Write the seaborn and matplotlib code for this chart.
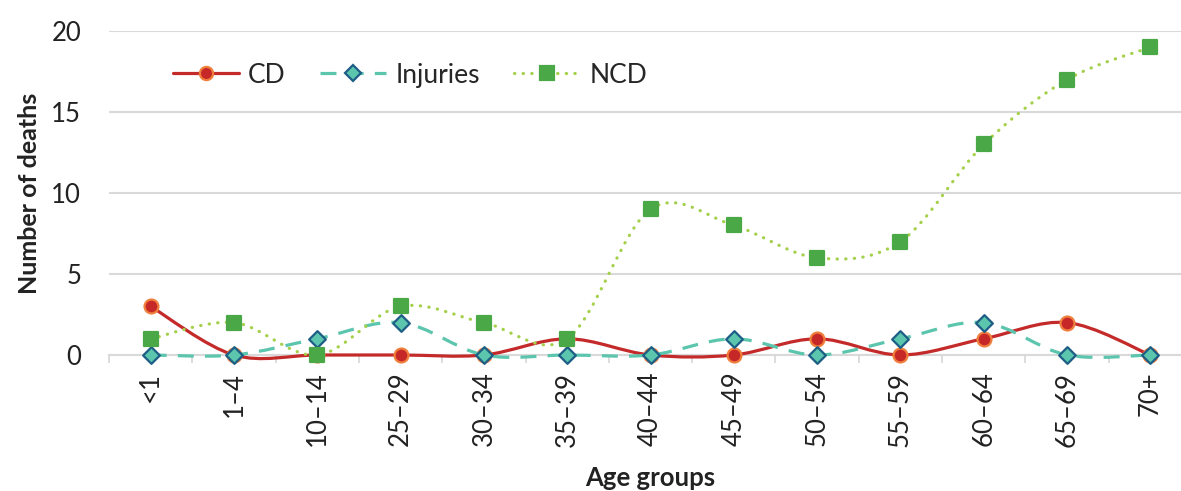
import numpy as np
import pandas as pd
import seaborn as sns
import matplotlib.pyplot as plt
from matplotlib.path import Path
from matplotlib.patches import PathPatch
from matplotlib.lines import Line2D
from matplotlib.ticker import FixedLocator

# data
age_groups = ['<1', '1–4', '10–14', '25–29', '30–34', '35–39', '40–44',
              '45–49', '50–54', '55–59', '60–64', '65–69', '70+']
cd = [3, 0, 0, 0, 0, 1, 0, 0, 1, 0, 1, 2, 0]
injuries = [0, 0, 1, 2, 0, 0, 0, 1, 0, 1, 2, 0, 0]
ncd = [1, 2, 0, 3, 2, 1, 9, 8, 6, 7, 13, 17, 19]

df = pd.DataFrame({'age': age_groups, 'CD': cd, 'Injuries': injuries, 'NCD': ncd})
df['pos'] = np.arange(len(df))

sns.set_theme(style='white')
plt.rcParams['font.family'] = ['Lato', 'DejaVu Sans']

fig = plt.figure(figsize=(11.81, 4.91), dpi=100)
ax = fig.add_axes([109 / 1181, 1 - 355 / 491, 1083 / 1181, 324 / 491])


def smooth_path(x, y):
    # excel-like smoothed line as cubic bezier segments
    pts = np.column_stack([x, y]).astype(float)
    n = len(pts)
    verts = [pts[0]]
    codes = [Path.MOVETO]
    for i in range(n - 1):
        p0 = pts[max(i - 1, 0)]
        p1 = pts[i]
        p2 = pts[i + 1]
        p3 = pts[min(i + 2, n - 1)]
        c1 = p1 + (p2 - p0) / 6
        c2 = p2 - (p3 - p1) / 6
        verts += [c1, c2, p2]
        codes += [Path.CURVE4] * 3
    return Path(verts, codes)


styles = {
    'CD': dict(color='#C42A2A', ls='-', marker='o', mfc='#C62828', mec='#F07F3C', ms=10, z=3),
    'Injuries': dict(color='#5CC5AD', ls=(0, (5, 3.5)), marker='D', mfc='#5CC5AD', mec='#1D5E86', ms=8.5, z=4),
    'NCD': dict(color='#A5D04C', ls=(0, (0.1, 2.6)), marker='s', mfc='#4AA847', mec='#4AA847', ms=10.5, z=5),
}

for name, st in styles.items():
    patch = PathPatch(smooth_path(df['pos'], df[name]), fill=False, edgecolor=st['color'],
                      lw=2.3, linestyle=st['ls'], capstyle='round' if name == 'NCD' else 'butt',
                      zorder=st['z'], clip_on=False)
    ax.add_patch(patch)
    sns.scatterplot(data=df, x='pos', y=name, marker=st['marker'], s=st['ms'] ** 2,
                    color=st['mfc'], edgecolor=st['mec'], linewidth=1.6, ax=ax,
                    zorder=st['z'] + 0.5, clip_on=False, legend=False)

ax.set_xlim(-0.5, 12.5)
ax.set_ylim(0, 20)
ax.set_yticks([0, 5, 10, 15, 20])
ax.set_xticks(df['pos'])
ax.set_xticklabels(age_groups, rotation=90)
ax.xaxis.set_minor_locator(FixedLocator(np.arange(-0.5, 13, 1)))
ax.tick_params(axis='x', which='major', length=0, pad=12, labelsize=18.5, colors='#222222')
ax.tick_params(axis='x', which='minor', bottom=True, length=6, width=1.3, color='#D9D9D9')
ax.tick_params(axis='y', length=0, pad=20, labelsize=18.5, colors='#222222')
ax.grid(axis='y', color='#D9D9D9', lw=1.5)
ax.set_axisbelow(True)
for side in ['top', 'right', 'left']:
    ax.spines[side].set_visible(False)
ax.spines['bottom'].set_color('#D9D9D9')
ax.spines['bottom'].set_linewidth(1.5)

ax.set_xlabel('Age groups', fontsize=18.5, fontweight='bold', color='#222222')
ax.set_ylabel('Number of deaths', fontsize=18, fontweight='bold', color='#222222')
ax.xaxis.set_label_coords(0.5, -(478 - 355) / 324)
ax.yaxis.set_label_coords(-79 / 1083, 0.5)
ax.xaxis.label.set_va('center')
ax.yaxis.label.set_va('center')

handles = [Line2D([], [], color=st['color'], lw=2.3, ls=st['ls'], marker=st['marker'],
                  markerfacecolor=st['mfc'], markeredgecolor=st['mec'], markersize=st['ms'] * 0.95,
                  markeredgewidth=1.6, dash_capstyle='round' if n == 'NCD' else 'butt')
           for n, st in styles.items()]
ax.legend(handles, list(styles.keys()), loc='center left', bbox_to_anchor=(64 / 1083, 0.864),
          ncol=3, frameon=False, fontsize=19, handlelength=2.5, handletextpad=0.35,
          columnspacing=1.3, borderaxespad=0, borderpad=0)

fig.savefig('out.png', dpi=100)
